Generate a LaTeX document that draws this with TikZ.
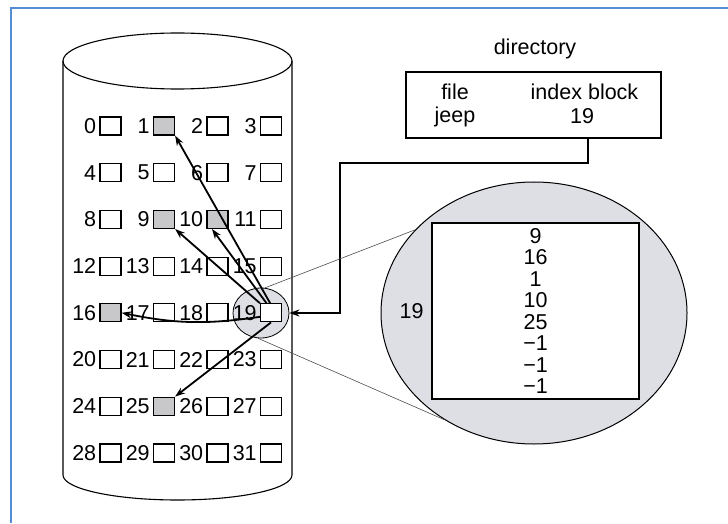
\documentclass[tikz,border=0pt]{standalone}
\usepackage{fontspec}
\setmainfont{Liberation Sans}
\usetikzlibrary{arrows.meta,shapes.geometric}
\definecolor{frameblue}{RGB}{84,141,212}
\definecolor{shade}{RGB}{200,200,203}
\definecolor{zoomgray}{RGB}{221,223,229}
\begin{document}
\begin{tikzpicture}[x=1pt,y=1pt,
        txt/.style={font=\fontsize{21.5}{21.5}\selectfont},
        blk/.style={draw,line width=1.2pt,minimum width=21pt,minimum height=18pt,inner sep=0pt},
        num/.style={txt,inner sep=1pt},
        arr/.style={line width=1.8pt,-{Stealth[length=10pt,width=7pt]}},
        thinline/.style={line width=0.6pt,black!70}]
        \useasboundingbox (0,0) rectangle (728,523);
        \draw[frameblue,line width=2pt] (11,0) -- (11,514.5) -- (728,514.5);
        \draw[line width=1.1pt] (177.5,462) ellipse [x radius=114.5,y radius=28];
        \draw[line width=1.1pt] (63,462) -- (63,48) arc[start angle=180,end angle=360,x radius=114.5,y radius=25] -- (292,462);
        \node[draw,ellipse,fill=zoomgray,line width=0.8pt,minimum width=56pt,minimum height=50pt] (hl) at (261,210) {};
        \foreach \n in {0,...,31} {
            \pgfmathtruncatemacro\cc{mod(\n,4)}
            \pgfmathtruncatemacro\rr{div(\n,4)}
            \pgfmathparse{(\n==1)||(\n==9)||(\n==10)||(\n==16)||(\n==25) ? "shade" : "white"}
            \let\blkfill\pgfmathresult
            \node[blk,fill=\blkfill,label={[num,label distance=2pt]left:\n}] (b\n) at (110.5+53.5*\cc,397-46.7*\rr) {};
        }
        \node[txt,anchor=base] (dname) at (535,468) {directory};
        \node[draw,line width=1.8pt,minimum width=255pt,minimum height=66pt] (dir) at (533.5,418) {};
        \node[txt,anchor=base] (fname) at (455,423) {file};
        \node[txt,anchor=base] (fjeep) at (455,400) {jeep};
        \node[txt,anchor=base] (fidx) at (584.5,423.5) {index block};
        \node[txt,anchor=base] (fnum) at (582,399) {19};
        \coordinate (bend) at (340,360);
        \draw[arr] ([xshift=6pt]dir.south -| fnum) |- (bend) |- (hl.east);
        \node[draw,ellipse,fill=zoomgray,line width=1pt,minimum width=306pt,minimum height=262pt] (zoom) at (534,210) {};
        \node[draw,fill=white,line width=2pt,minimum width=207pt,minimum height=176pt,txt,align=center,
            label={[txt,label distance=4pt]left:19}] (iblk) at (535.5,212) {9\\16\\1\\10\\25\\−1\\−1\\−1};
        \draw[thinline] (hl.81) -- (zoom.145);
        \draw[thinline] (hl.263) -- (zoom.230);
        \draw[arr] (b19.95) -- (b1.south east);
        \draw[arr] (b19.north west) -- (b9.south east);
        \draw[arr] (b19.115) -- (b10.-120);
        \draw[arr] (b19.200) to[bend left=10] (b16.east);
        \draw[arr] (b19.south) -- (b25.north east);
\end{tikzpicture}
\end{document}
